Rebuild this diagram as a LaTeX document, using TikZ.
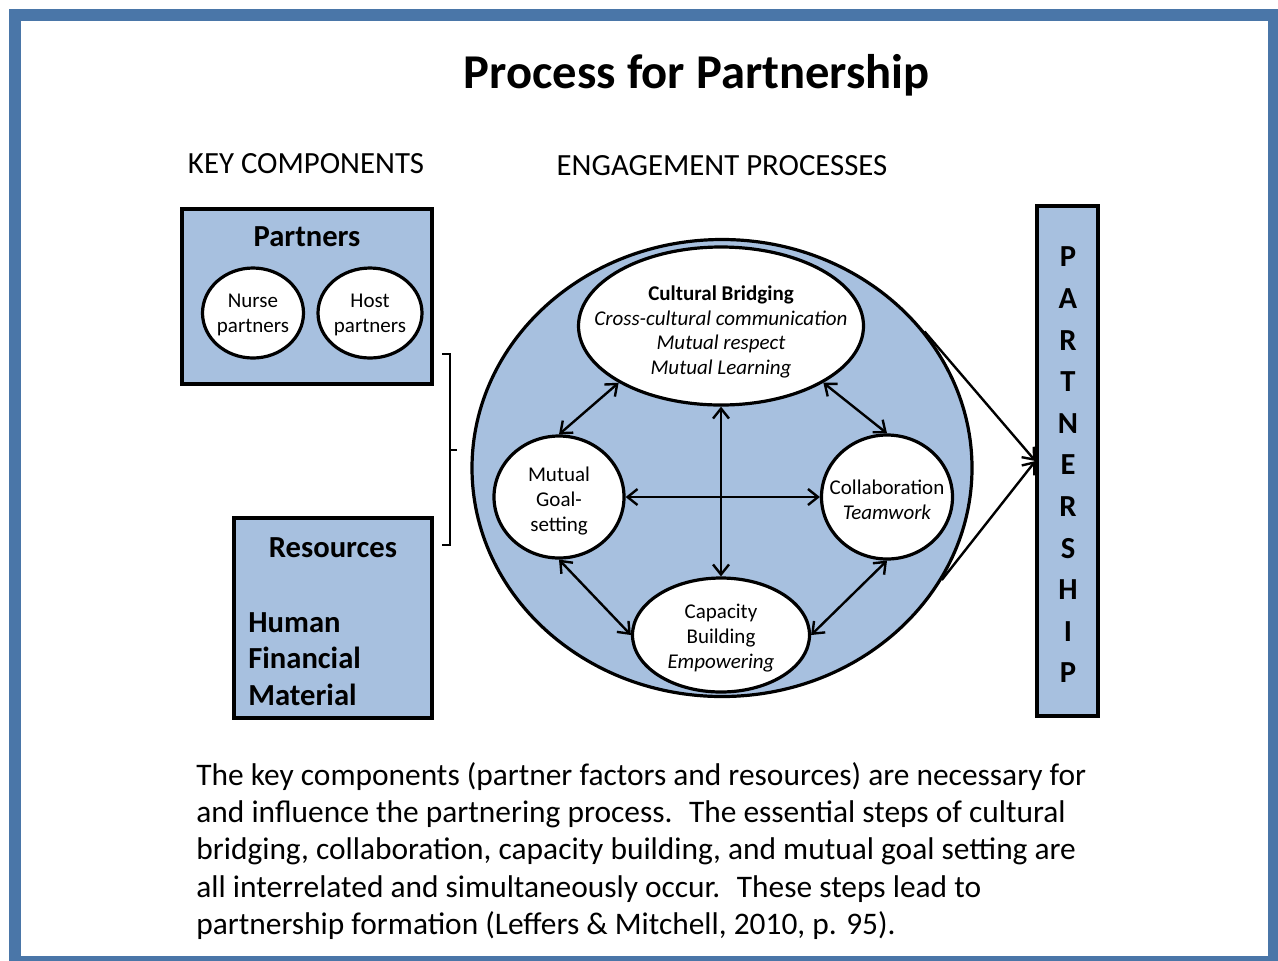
\documentclass[tikz,border=0pt]{standalone}
\usepackage{fontspec}
\setmainfont{Carlito}
\usetikzlibrary{shapes.geometric,arrows.meta}
\definecolor{frameblue}{RGB}{74,118,168}
\definecolor{boxblue}{RGB}{167,192,223}
\begin{document}
\begin{tikzpicture}[x=0.5pt, y=-0.5pt,
    box/.style={rectangle, draw=black, line width=1.6pt, fill=boxblue},
    bubble/.style={ellipse, draw=black, line width=1.6pt, fill=white, inner sep=0pt},
    txt/.style={inner sep=0pt, align=center, font=\fontsize{10.5}{12.4}\selectfont},
    head/.style={inner sep=0pt, font=\fontsize{15.3}{18}\selectfont\bfseries},
    caps/.style={inner sep=0pt, font=\fontsize{15.4}{18}\selectfont},
    link/.style={<->, line width=1.2pt},
    >={Straight Barb[length=5pt, width=8pt]}
    ]
    \useasboundingbox (0,0) rectangle (1278,960);
    \draw[frameblue, line width=6pt] (15,15) rectangle (1274,962);

    %Titles
    \node[inner sep=0pt, anchor=base, font=\fontsize{24.3}{28}\selectfont\bfseries] (title) at (697,88) {Process for Partnership};
    \node[caps, anchor=base] (keycomp) at (306,173) {KEY COMPONENTS};
    \node[caps, anchor=base] (engproc) at (722,175) {ENGAGEMENT PROCESSES};

    %Key components
    \node[box, minimum width=125pt, minimum height=87.5pt] (partners) at (307,296.5) {};
    \node[head, anchor=base] (partnerstxt) at (307,246) {Partners};
    \node[bubble, minimum width=50.5pt, minimum height=45pt] (nurse) at (253,313) {};
    \node[txt] (nursetxt) at (253,315) {Nurse\\partners};
    \node[bubble, minimum width=52pt, minimum height=45pt] (host) at (370,313) {};
    \node[txt] (hosttxt) at (370,315) {Host\\partners};

    \node[box, minimum width=99pt, minimum height=100pt] (resources) at (333,618) {};
    \node[head, anchor=base] (resourcestxt) at (333,557) {Resources};
    \node[head, align=left, anchor=west, font=\fontsize{15.3}{18.3}\selectfont\bfseries] (kinds) at (248,659) {Human\\Financial\\Material};

    \draw[line width=1pt] (442,354) -- (450,354) -- (450,545) -- (442,545) (450,450) -- (457,450);

    %Engagement processes
    \node[ellipse, draw=black, line width=1.6pt, fill=boxblue, minimum width=250pt, minimum height=228.5pt] (eng) at (722,468) {};
    \node[bubble, minimum width=142.5pt, minimum height=79pt] (cb) at (721,326) {};
    \node[txt] (cbtxt) at (721,332) {\textbf{Cultural Bridging}\\\textit{Cross-cultural communication}\\\textit{Mutual respect}\\\textit{Mutual Learning}};
    \node[bubble, minimum width=65pt, minimum height=61pt] (goal) at (559,497) {};
    \node[txt] (goaltxt) at (559,501) {Mutual\\Goal-\\setting};
    \node[bubble, minimum width=65.5pt, minimum height=62pt] (coll) at (887,497) {};
    \node[txt] (colltxt) at (887,500) {Collaboration\\\textit{Teamwork}};
    \node[bubble, minimum width=88.5pt, minimum height=57pt] (cap) at (721,635) {};
    \node[txt] (captxt) at (721,638) {Capacity\\Building\\\textit{Empowering}};

    %Partnership
    \node[box, minimum width=30.5pt, minimum height=255pt] (pship) at (1067.5,461) {};
    \node[head, align=center, font=\fontsize{15.3}{20.8}\selectfont\bfseries] (pshiptxt) at (1068,465) {P\\A\\R\\T\\N\\E\\R\\S\\H\\I\\P};

    %Body text
    \node[caps, align=left, anchor=west, font=\fontsize{15.7}{18.6}\selectfont] (body) at (196,851) {The key components (partner factors and resources) are necessary for\\and influence the partnering process.~ The essential steps of cultural\\bridging, collaboration, capacity building, and mutual goal setting are\\all interrelated and simultaneously occur.~ These steps lead to\\partnership formation (Leffers \& Mitchell, 2010, p. 95).};

    %Lines
    \draw[link] (cb.209) -- (goal.north);
    \draw[link] (cb.331) -- (coll.north);
    \draw[link] (cb.south) -- (cap.north);
    \draw[link] (goal.east) -- (coll.west);
    \draw[link] (goal.south) -- (cap.west);
    \draw[link] (coll.south) -- (cap.east);
    \draw[->, line width=1.2pt] (eng.34) -- (pship.west);
    \draw[->, line width=1.2pt] (eng.-27) -- (pship.west);
\end{tikzpicture}
\end{document}
